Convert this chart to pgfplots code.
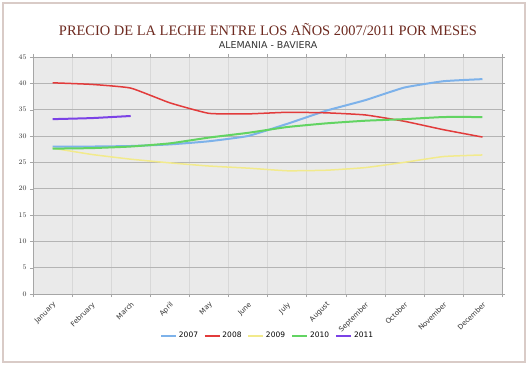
\documentclass[border=0pt]{standalone}
\usepackage{pgfplots}
\pgfplotsset{compat=1.18}
\usepackage{fontspec}
\setmainfont{DejaVu Sans}
\newfontfamily\titlefont{Liberation Serif}
\definecolor{framecol}{HTML}{D9CBC7}
\definecolor{titlecol}{HTML}{6E2A20}
\definecolor{plotbg}{HTML}{EAEAEA}
\definecolor{hgrid}{HTML}{B4B4B4}
\definecolor{vgrid}{HTML}{D8D8D8}
\definecolor{c2007}{HTML}{7DB2EA}
\definecolor{c2008}{HTML}{E23B3B}
\definecolor{c2009}{HTML}{F2EA8C}
\definecolor{c2010}{HTML}{62D462}
\definecolor{c2011}{HTML}{7B42E6}
\begin{document}
\begin{tikzpicture}[x=1bp,y=1bp]
\path[use as bounding box] (0,0) rectangle (530,366);
\fill[white] (0,0) rectangle (530,366);
\draw[framecol, line width=1.2bp] (3,4) rectangle (525,363);
\node[titlecol, font=\titlefont\fontsize{14.5}{16}\selectfont] at (268,336) {PRECIO DE LA LECHE ENTRE LOS AÑOS 2007/2011 POR MESES};
\node[black!80, font=\fontsize{9.5}{11}\selectfont] at (268,321) {ALEMANIA - BAVIERA};
\begin{axis}[
  at={(33bp,72bp)}, anchor=south west,
  width=469bp, height=237bp, scale only axis,
  xmin=-0.5, xmax=11.5, ymin=0, ymax=45,
  axis background/.style={fill=plotbg},
  axis line style={gray!70},
  xtick={0,...,11},
  xticklabels={January,February,March,April,May,June,July,August,September,October,November,December},
  major x tick style={draw=none},
  minor xtick={-0.5,0.5,...,11.5},
  minor x tick style={gray!70},
  xminorgrids, minor x grid style={vgrid, line width=0.5bp},
  ytick={0,5,...,45},
  ymajorgrids, major y grid style={hgrid, line width=0.8bp},
  tick align=outside, major tick length=3bp, minor tick length=3bp,
  y tick style={gray!70},
  tick label style={font=\fontsize{7}{8}\selectfont, text=black!80},
  x tick label style={rotate=45, anchor=north east, inner sep=1.5bp},
  xticklabel shift=2bp,
  legend style={at={(0.5,-0.177)}, anchor=center, draw=none, fill=none,
     font=\fontsize{7.5}{8}\selectfont, legend columns=-1,
     /tikz/every even column/.append style={column sep=4bp}},
  legend image code/.code={\draw[#1] (0,0) -- (15bp,0);},
  every axis plot/.append style={line width=1.5bp, smooth, tension=0.25},
]
\addplot[c2007, line width=2bp] coordinates {(0,28.0)(1,28.0)(2,28.1)(3,28.4)(4,29.0)(5,30.0)(6,32.3)(7,34.8)(8,36.8)(9,39.2)(10,40.4)(11,40.8)};
\addplot[c2008] coordinates {(0,40.1)(1,39.8)(2,39.1)(3,36.3)(4,34.3)(5,34.2)(6,34.5)(7,34.4)(8,34.0)(9,32.8)(10,31.2)(11,29.8)};
\addplot[c2009] coordinates {(0,27.7)(1,26.5)(2,25.6)(3,24.9)(4,24.3)(5,23.9)(6,23.4)(7,23.5)(8,24.0)(9,25.0)(10,26.1)(11,26.4)};
\addplot[c2010, line width=2bp] coordinates {(0,27.6)(1,27.7)(2,28.0)(3,28.6)(4,29.7)(5,30.6)(6,31.7)(7,32.4)(8,32.9)(9,33.2)(10,33.6)(11,33.6)};
\addplot[c2011, line width=2bp] coordinates {(0,33.2)(1,33.4)(2,33.8)};
\legend{2007,2008,2009,2010,2011}
\end{axis}
\end{tikzpicture}
\end{document}
